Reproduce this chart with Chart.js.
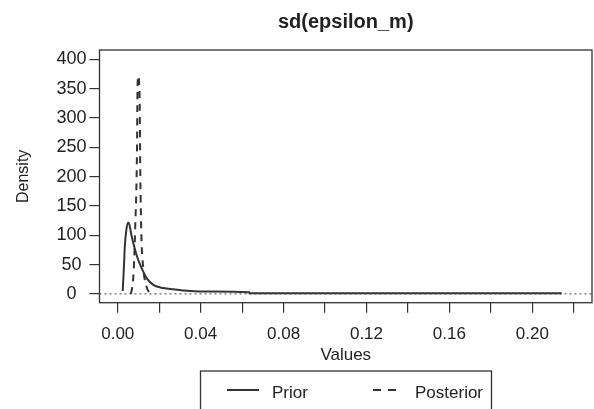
<!DOCTYPE html>
<html>
<head>
<meta charset="utf-8">
<script src="https://cdn.jsdelivr.net/npm/chart.js@4.4.1/dist/chart.umd.min.js"></script>
<style>
  html, body { margin: 0; padding: 0; background: #fff; }
  #wrap { width: 594px; height: 409px; }
</style>
</head>
<body>
<div id="wrap"><canvas id="densityChart" width="594" height="409"></canvas></div>
<script>
// values
const chartTitle = 'sd(epsilon_m)';
const seriesLabels = ['Prior', 'Posterior'];

const priorX = [0.0024, 0.0029, 0.0034, 0.0041, 0.0051, 0.0058, 0.0065, 0.0080, 0.0094, 0.0108, 0.0123, 0.0141, 0.0173, 0.0221, 0.0269, 0.0334, 0.0446, 0.0634, 0.0636, 0.1000, 0.1500, 0.2142];
const priorY = [5, 40, 80, 108, 122, 116, 102, 80, 63, 50, 38, 26, 15, 10, 8, 5.5, 4, 3, 1, 1, 1, 1];

const postX = [0.0062, 0.00685, 0.0077, 0.0084, 0.0093, 0.0095, 0.0098, 0.0105, 0.0109, 0.0114, 0.0123, 0.0141, 0.0157, 0.0180];
const postY = [0, 8, 40, 110, 250, 340, 372, 345, 202, 100, 45, 10, 2, 0.3];

const xLimits = [-0.0088, 0.2288];
const yLimits = [-15, 416];
const xTicks = [0, 0.02, 0.04, 0.06, 0.08, 0.10, 0.12, 0.14, 0.16, 0.18, 0.20, 0.22];
const yTicks = [0, 50, 100, 150, 200, 250, 300, 350, 400];

const FONT = '"Liberation Sans", Arial, sans-serif';
const INK = '#222';
const LINE = '#333';

const toPoints = (xs, ys) => xs.map((x, i) => ({ x: x, y: ys[i] }));

// box round the plot + legend under it
const boxPlugin = {
  id: 'boxPlugin',
  afterDraw(chart) {
    const { ctx, chartArea: a } = chart;
    ctx.save();
    ctx.strokeStyle = LINE;
    ctx.lineWidth = 1.3;
    ctx.strokeRect(a.left, a.top, a.right - a.left, a.bottom - a.top);

    // legend
    ctx.strokeRect(200.5, 371, 291, 50);
    ctx.lineWidth = 2;
    ctx.beginPath();
    ctx.moveTo(227, 390);
    ctx.lineTo(259, 390);
    ctx.stroke();
    ctx.setLineDash([8, 7]);
    ctx.beginPath();
    ctx.moveTo(373, 390);
    ctx.lineTo(397, 390);
    ctx.stroke();
    ctx.setLineDash([]);
    ctx.fillStyle = INK;
    ctx.font = '17px ' + FONT;
    ctx.textBaseline = 'middle';
    ctx.fillText(seriesLabels[0], 272, 393);
    ctx.fillText(seriesLabels[1], 415, 393);
    ctx.restore();
  }
};

new Chart(document.getElementById('densityChart'), {
  type: 'line',
  data: {
    datasets: [
      {
        label: seriesLabels[0],
        data: toPoints(priorX, priorY),
        borderColor: LINE,
        borderWidth: 2,
        pointRadius: 0,
        cubicInterpolationMode: 'monotone',
        fill: false
      },
      {
        label: seriesLabels[1],
        data: toPoints(postX, postY),
        borderColor: LINE,
        borderWidth: 2,
        borderDash: [7, 6],
        pointRadius: 0,
        cubicInterpolationMode: 'monotone',
        fill: false
      },
      {
        label: 'zero',
        data: toPoints(xLimits, [0, 0]),
        borderColor: '#444',
        borderWidth: 1,
        borderDash: [2, 3],
        pointRadius: 0,
        fill: false
      }
    ]
  },
  options: {
    responsive: false,
    animation: false,
    devicePixelRatio: 1,
    layout: { padding: { left: 0, right: 2, top: 0, bottom: 0 } },
    plugins: {
      legend: { display: false },
      tooltip: { enabled: false },
      title: {
        display: true,
        text: chartTitle,
        fullSize: false,
        color: INK,
        font: { size: 20, weight: 'bold', family: FONT },
        padding: { top: 10, bottom: 16 }
      }
    },
    scales: {
      x: {
        type: 'linear',
        min: xLimits[0],
        max: xLimits[1],
        afterBuildTicks: (scale) => { scale.ticks = xTicks.map((v) => ({ value: v })); },
        afterFit: (scale) => { scale.height = 106.3; },
        grid: { drawOnChartArea: false, drawTicks: true, tickLength: 10, color: LINE, lineWidth: 1.2 },
        border: { display: false },
        ticks: {
          autoSkip: false,
          maxRotation: 0,
          padding: 11,
          color: INK,
          font: { size: 17, family: FONT },
          callback: (v, i) => (i % 2 === 0 && i < 11 ? v.toFixed(2) : '')
        },
        title: {
          display: true,
          text: 'Values',
          color: INK,
          font: { size: 17, family: FONT },
          padding: { top: 0, bottom: 43 }
        }
      },
      y: {
        type: 'linear',
        min: yLimits[0],
        max: yLimits[1],
        afterBuildTicks: (scale) => { scale.ticks = yTicks.map((v) => ({ value: v })); },
        afterFit: (scale) => { scale.width = 99.5; },
        grid: { drawOnChartArea: false, drawTicks: true, tickLength: 10, color: LINE, lineWidth: 1.2 },
        border: { display: false },
        ticks: {
          padding: 3,
          crossAlign: 'center',
          color: INK,
          font: { size: 18, family: FONT }
        },
        title: {
          display: true,
          text: 'Density',
          color: INK,
          font: { size: 16, family: FONT },
          padding: { top: 14, bottom: 0 }
        }
      }
    }
  },
  plugins: [boxPlugin]
});
</script>
</body>
</html>
